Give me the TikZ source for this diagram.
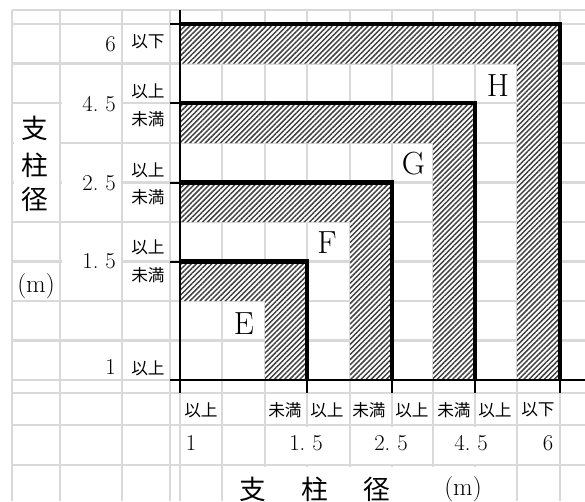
\documentclass[tikz,border=0pt]{standalone}
\usepackage{fontspec}
\newfontfamily\jpfont{Noto Sans CJK JP}
\usetikzlibrary{patterns.meta}

\begin{document}
\begin{tikzpicture}[x=0.75pt,y=-0.75pt,
  every node/.style={inner sep=0pt},
  gridline/.style={draw=gray!30,line width=2pt},
  merged/.style={fill=white},
  band/.style={fill=white,postaction={pattern={Lines[angle=45,distance=2.7pt,line width=1.1pt]},pattern color=black!75}},
  axis/.style={line width=2pt},
  tick/.style={line width=1.5pt},
  bound/.style={line width=3.2pt},
  num/.style={font=\fontsize{17}{20}\selectfont},
  jp/.style={font=\jpfont\fontsize{12.5}{14}\selectfont},
  jpbig/.style={font=\jpfont\fontsize{20}{24}\selectfont},
  unit/.style={font=\fontsize{19}{22}\selectfont},
  zone/.style={font=\fontsize{24}{28}\selectfont}]
  \path[use as bounding box,fill=white] (0,0) rectangle (585,501);
  % Sheet grid.
  \foreach \y in {10,24,63.5,103,143,182.5,222,261.5,301,340.5,380,393,425,465}
    \draw[gridline] (12,\y) -- (585,\y);
  \foreach \x in {12,60,122,170,180,222,265,307,350,392,433,475,517,560}
    \draw[gridline] (\x,10) -- (\x,501);
  % merged cells
  \fill[merged] (13.5,104.5) rectangle (58.5,220.5);
  \fill[merged] (61.5,65) rectangle (120.5,141.5);
  \fill[merged] (61.5,144.5) rectangle (120.5,220.5);
  \fill[merged] (61.5,223.5) rectangle (120.5,299.5);
  \fill[merged] (266.5,426.5) rectangle (348.5,463.5);
  \fill[merged] (351.5,426.5) rectangle (431.5,463.5);
  \fill[merged] (434.5,426.5) rectangle (515.5,463.5);
  \fill[merged] (223.5,466.5) rectangle (515.5,501);

  % Hatched L-shaped bands.
  \path[band] (180,261.5) -- (307,261.5) -- (307,380) -- (265,380) -- (265,301) -- (180,301) -- cycle;
  \path[band] (180,182.5) -- (392,182.5) -- (392,380) -- (350,380) -- (350,222) -- (180,222) -- cycle;
  \path[band] (180,103) -- (475,103) -- (475,380) -- (433,380) -- (433,143) -- (180,143) -- cycle;
  \path[band] (180,24) -- (560,24) -- (560,380) -- (517,380) -- (517,63.5) -- (180,63.5) -- cycle;

  % Boundaries and axes.
  \foreach \x/\y in {307/261.5,392/182.5,475/103,560/24} {
    \draw[bound] (180,\y) -| (\x,380);
    \draw[tick] (170,\y) -- (180,\y);
    \draw[tick] (\x,380) -- (\x,393);
  }
  \draw[axis] (180,10) -- (180,393);
  \draw[axis] (170,380) -- (585,380);

  % Zone letters.
  \node[zone] (zE) at (244,323.5) {E};
  \node[zone] (zF) at (327,243) {F};
  \node[zone] (zG) at (413.5,164) {G};
  \node[zone] (zH) at (498,86) {H};

  % Left scale.
  \node[num,anchor=east] (v6) at (116,44) {6};
  \node[num,anchor=east] (v45) at (116,104) {4.\ 5};
  \node[num,anchor=east] (v25) at (116,183) {2.\ 5};
  \node[num,anchor=east] (v15) at (116,261) {1.\ 5};
  \node[num,anchor=east] (v1) at (116,367) {1};
  \node[jp,anchor=west] (r6) at (131,42) {以下};
  \node[jp,anchor=west] (r45a) at (131,91) {以上};
  \node[jp,anchor=west] (r45b) at (131,119.5) {未満};
  \node[jp,anchor=west] (r25a) at (131,170) {以上};
  \node[jp,anchor=west] (r25b) at (131,197.5) {未満};
  \node[jp,anchor=west] (r15a) at (131,247.5) {以上};
  \node[jp,anchor=west] (r15b) at (131,275.5) {未満};
  \node[jp,anchor=west] (r1) at (131,368) {以上};
  \node[jpbig] (yt1) at (35,128.5) {支};
  \node[jpbig] (yt2) at (35,165) {柱};
  \node[jpbig] (yt3) at (35,199) {径};
  \node[unit] (yunit) at (36,286) {(m)};

  % Bottom scale.
  \node[jp,anchor=west] (c1) at (184,410) {以上};
  \node[jp,anchor=west] (c15a) at (268,410) {未満};
  \node[jp,anchor=west] (c15b) at (310,410) {以上};
  \node[jp,anchor=west] (c25a) at (352,410) {未満};
  \node[jp,anchor=west] (c25b) at (395,410) {以上};
  \node[jp,anchor=west] (c45a) at (437,410) {未満};
  \node[jp,anchor=west] (c45b) at (478,410) {以上};
  \node[jp,anchor=west] (c6) at (521,410) {以下};
  \node[num] (h1) at (191,443) {1};
  \node[num] (h15) at (306,443) {1.\ 5};
  \node[num] (h25) at (391,443) {2.\ 5};
  \node[num] (h45) at (471,443) {4.\ 5};
  \node[num] (h6) at (548,443) {6};
  \node[jpbig] (xt1) at (253,489) {支};
  \node[jpbig] (xt2) at (315,489) {柱};
  \node[jpbig] (xt3) at (377,489) {径};
  \node[unit] (xunit) at (463,489) {(m)};
\end{tikzpicture}
\end{document}
